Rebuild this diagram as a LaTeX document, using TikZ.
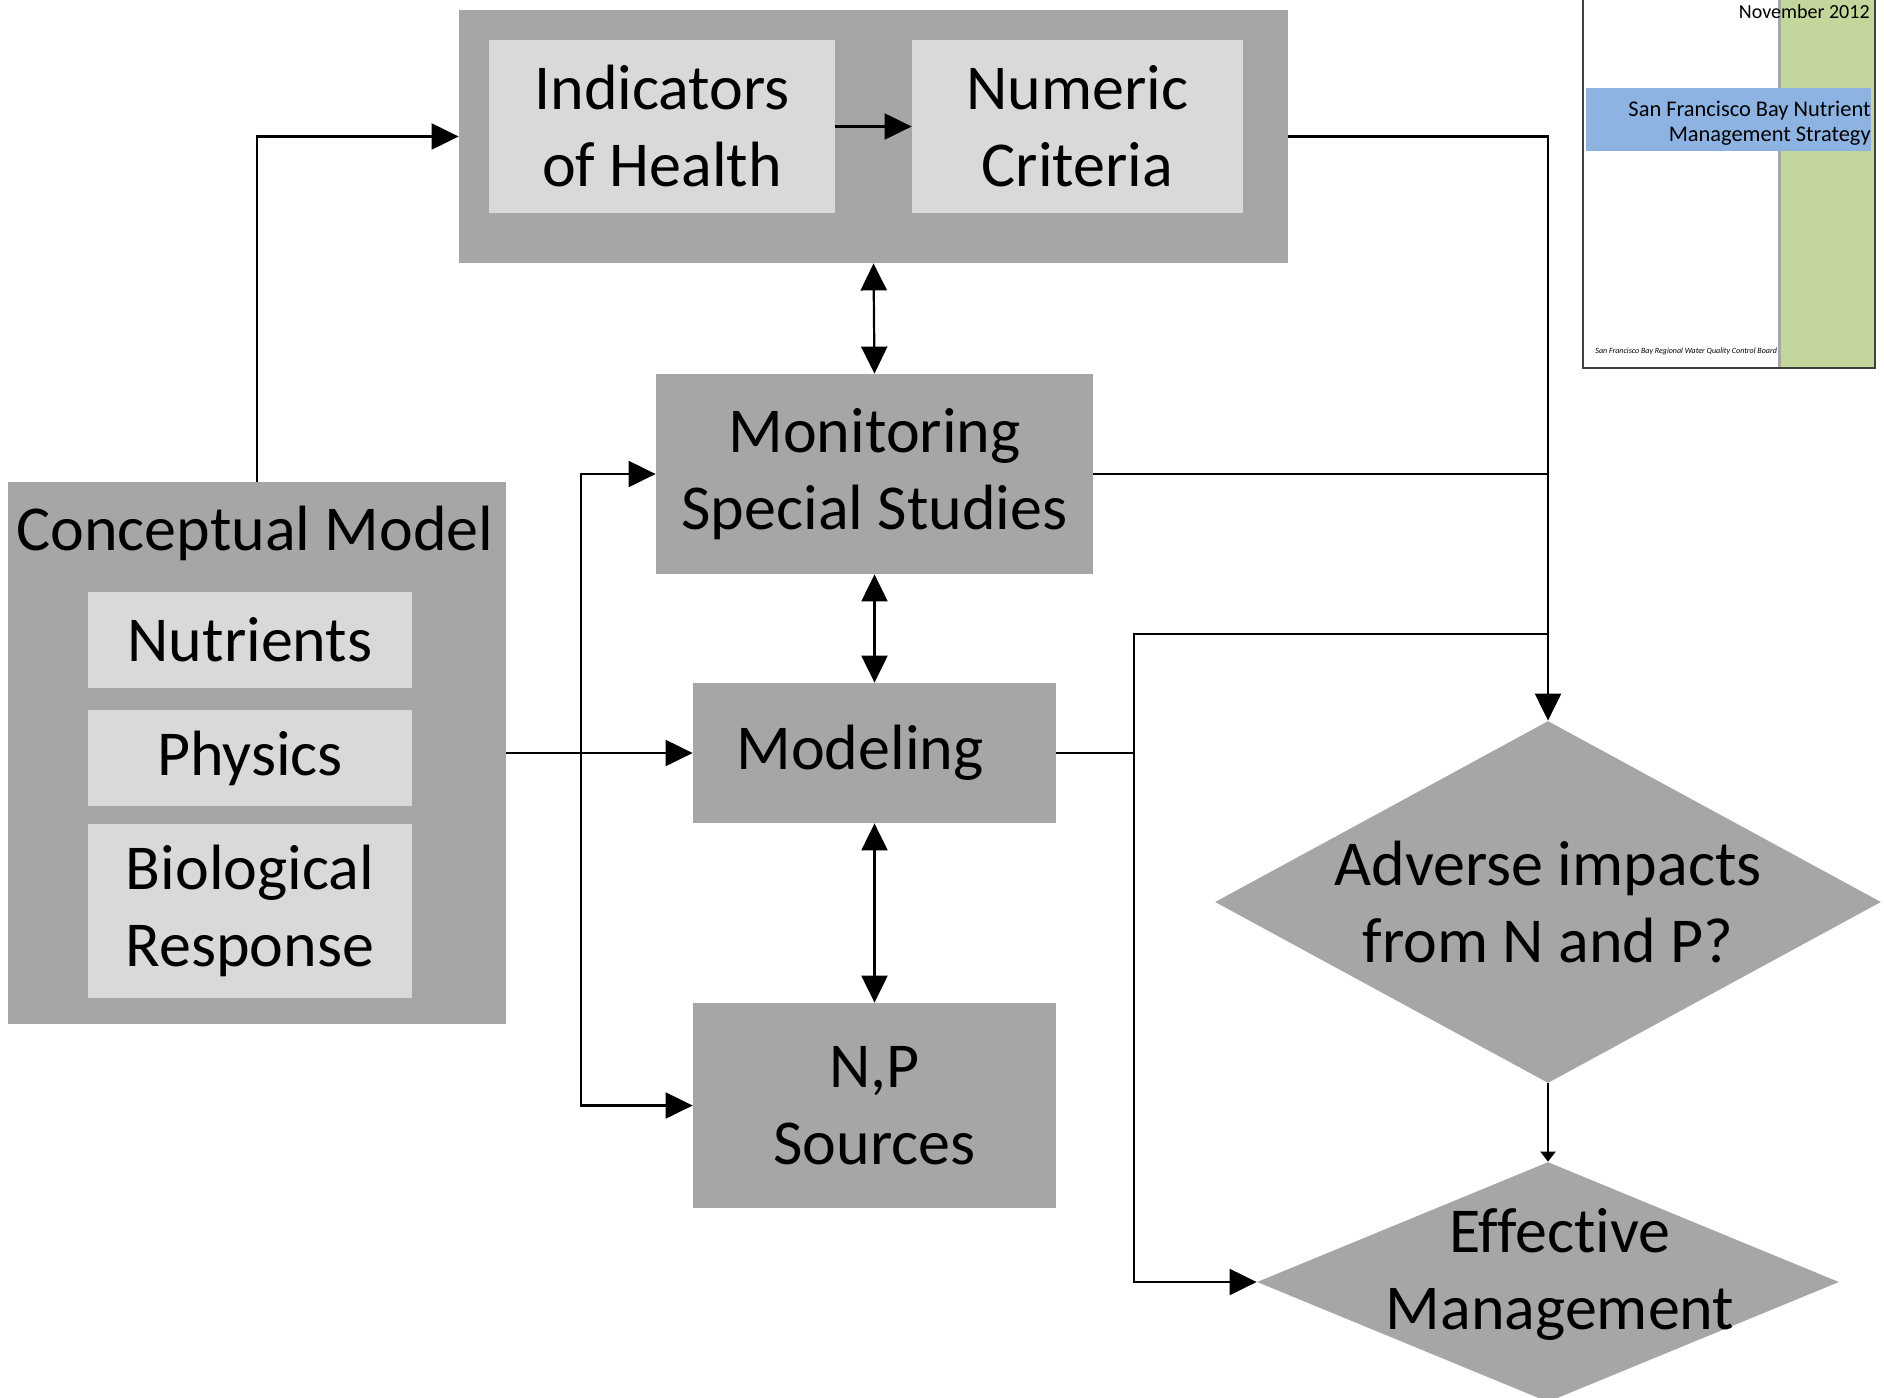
\documentclass[tikz,border=0pt]{standalone}
\usepackage{fontspec}
\setmainfont[Ligatures=NoCommon]{Carlito}
\usetikzlibrary{shapes.geometric,arrows.meta}

\definecolor{boxdark}{HTML}{A6A6A6}
\definecolor{boxlight}{HTML}{D9D9D9}
\definecolor{bandblue}{HTML}{8DB3E2}
\definecolor{stripgreen}{HTML}{C3D69B}
\newcommand{\bigtxt}{\fontsize{32}{38.5}\selectfont}

\begin{document}
\begin{tikzpicture}[x=0.5pt,y=-0.5pt,
  darkbox/.style={fill=boxdark,inner sep=0pt,align=center,font=\bigtxt},
  lightbox/.style={fill=boxlight,inner sep=0pt,align=center,font=\bigtxt},
  decision/.style={diamond,fill=boxdark,inner sep=0pt},
  boxtext/.style={inner sep=0pt,align=center,font=\bigtxt},
  link/.style={line width=1.1pt},
  arr/.style={link,-{Triangle[length=13.5pt,width=13pt]}},
  dbl/.style={link,{Triangle[length=13.5pt,width=13pt]}-{Triangle[length=13.5pt,width=13pt]}},
  sarr/.style={link,-{Triangle[length=5pt,width=7.5pt]}}]
  \useasboundingbox (0,0) rectangle (1884,1397);

  % Indicators and criteria
  \node[darkbox,minimum width=414.5pt,minimum height=126.5pt] (topbox) at (873.5,136.5) {};
  \node[lightbox,minimum width=173pt,minimum height=86.5pt] (indicators) at (662,126.5) {Indicators\\of Health};
  \node[lightbox,minimum width=165.5pt,minimum height=86.5pt] (numeric) at (1077.5,126.5) {Numeric\\Criteria};

  % Central column
  \node[darkbox,minimum width=218.5pt,minimum height=100pt] (monitoring) at (874.5,474) {Monitoring\\Special Studies};
  \node[darkbox,minimum width=181.5pt,minimum height=70pt] (modeling) at (874.5,753) {Modeling\hspace*{14.5pt}};
  \node[darkbox,minimum width=181.5pt,minimum height=102.5pt] (sources) at (874.5,1105.5) {N,P\\Sources};

  % Conceptual model
  \node[darkbox,minimum width=249pt,minimum height=271pt] (concept) at (257,753) {};
  \node[boxtext] (concepttitle) at (255,533) {Conceptual Model};
  \node[lightbox,minimum width=162pt,minimum height=48pt] (nutrients) at (250,640) {Nutrients};
  \node[lightbox,minimum width=162pt,minimum height=48pt] (physics) at (250,758) {Physics};
  \node[lightbox,minimum width=162pt,minimum height=87pt] (biology) at (250,911) {Biological\\Response};

  % Decisions
  \node[decision,minimum width=333pt,minimum height=181pt] (adverse) at (1548,902) {};
  \node[boxtext] (adversetext) at (adverse) {Adverse impacts\\from N and P?};
  \node[decision,minimum width=291pt,minimum height=120pt] (effective) at (1548,1282) {};
  \node[boxtext] (effectivetext) at (1560,1274) {Effective\\Management};

  % Connectors
  \draw[arr] (concept.north) |- (topbox.west);
  \draw[arr] (indicators.east) -- (numeric.west);
  \draw[arr] (topbox.east) -| (adverse.north);
  \draw[link] (monitoring.east) -- (monitoring.east -| adverse.north);
  \draw[dbl] (topbox.south) -- (monitoring.north);
  \draw[dbl] (monitoring.south) -- (modeling.north);
  \draw[dbl] (modeling.south) -- (sources.north);
  \draw[arr] (concept.east) -- (modeling.west);
  \coordinate (split) at (581,753);
  \draw[arr] (split) |- (monitoring.west);
  \draw[arr] (split) |- (sources.west);
  \coordinate (turn) at (1134,634);
  \draw[link] (modeling.east) -| (turn) -- (turn -| adverse.north);
  \draw[arr] (modeling.east -| turn) |- (effective.west);
  \draw[sarr] (adverse.south) -- (effective.north);

  % Report cover
  \fill[stripgreen] (1781,0) rectangle (1875,368);
  \fill[black!35] (1778,0) rectangle (1781,368);
  \fill[bandblue] (1586,88) rectangle (1871,151);
  \draw[black!75,line width=1pt] (1583,-5) rectangle (1875,368);
  \node[anchor=east,inner sep=0pt,font=\fontsize{10}{12}\selectfont] (coverdate) at (1870,12) {November 2012};
  \node[anchor=east,inner sep=0pt,align=right,font=\fontsize{11.2}{12.5}\selectfont] (covertitle) at (1871,123) {San Francisco Bay Nutrient\\Management Strategy};
  \node[anchor=west,inner sep=0pt,font=\fontsize{4}{4.5}\selectfont\itshape] (coverboard) at (1595,351) {San Francisco Bay Regional Water Quality Control Board};
\end{tikzpicture}
\end{document}
